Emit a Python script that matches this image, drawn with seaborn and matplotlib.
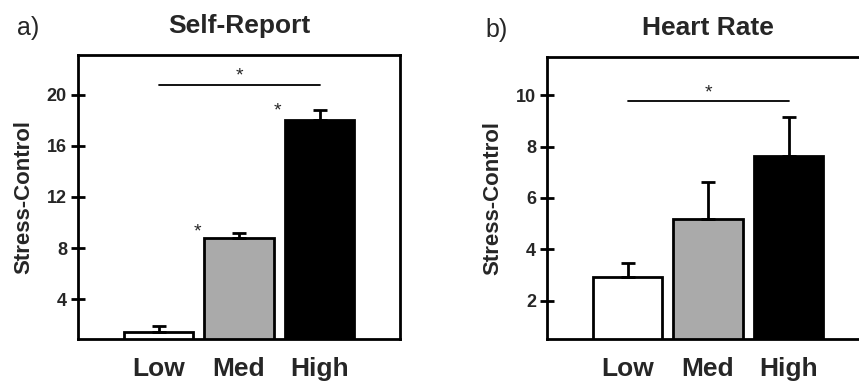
import numpy as np
import pandas as pd
import matplotlib
matplotlib.use('Agg')
import matplotlib.pyplot as plt
import seaborn as sns

# data
groups = ['Low', 'Med', 'High']
colors = ['#ffffff', '#aaaaaa', '#000000']

self_report = [1.45, 8.82, 17.98]
self_report_se = [0.45, 0.38, 0.79]

heart_rate = [2.91, 5.19, 7.64]
heart_rate_se = [0.56, 1.43, 1.50]

sr_bracket = 20.78   # Low vs High line height
hr_bracket = 9.77
sr_stars = [(0.48, 9.3), (1.48, 18.7)]   # single-group asterisks

sns.set_style('white')
plt.rcParams['font.family'] = ['Liberation Sans', 'DejaVu Sans']


def panel(ax, means, errs, ylim, yticks, title, letter, bracket, stars):
    df = pd.DataFrame({'group': groups, 'value': means})
    sns.barplot(data=df, x='group', y='value', hue='group', palette=colors,
                order=groups, hue_order=groups, width=0.86, legend=False,
                edgecolor='black', linewidth=2, errorbar=None, ax=ax)
    x = np.arange(len(groups))
    ax.errorbar(x, means, yerr=[np.zeros(len(errs)), errs], fmt='none',
                ecolor='black', elinewidth=2, capsize=5, capthick=2, zorder=1)
    ax.set_xlim(-1.0, 3.0)
    ax.set_ylim(*ylim)
    ax.set_yticks(yticks)
    ax.set_yticklabels([str(t) for t in yticks], fontsize=13, fontweight='bold')
    ax.set_xticks(x)
    ax.set_xticklabels(groups, fontsize=19, fontweight='bold')
    ax.tick_params(axis='x', length=0, pad=13)
    ax.tick_params(axis='y', left=True, direction='inout', length=10,
                   width=2, color='black', pad=3)
    for s in ax.spines.values():
        s.set_linewidth(2)
        s.set_color('black')
    ax.set_xlabel('')
    ax.set_ylabel('Stress-Control', fontsize=16, fontweight='bold', labelpad=9)
    ax.set_title(title, fontsize=19, fontweight='bold', pad=16)
    ax.text(-0.19, 1.095, letter, transform=ax.transAxes, fontsize=18,
            va='center', ha='left')
    ax.plot([0, 2], [bracket, bracket], color='black', lw=1.3)
    ax.text(1, bracket, '*', ha='center', va='bottom', fontsize=14)
    for sx, sy in stars:
        ax.text(sx, sy, '*', ha='center', va='center', fontsize=14)


fig = plt.figure(figsize=(8.59, 3.86), dpi=100)
ax1 = fig.add_axes([0.0908, 0.1218, 0.3749, 0.7357])
ax2 = fig.add_axes([0.6368, 0.1218, 0.3749, 0.7306])

panel(ax1, self_report, self_report_se, (0.9, 23.1), [4, 8, 12, 16, 20],
      'Self-Report', 'a)', sr_bracket, sr_stars)
panel(ax2, heart_rate, heart_rate_se, (0.5, 11.5), [2, 4, 6, 8, 10],
      'Heart Rate', 'b)', hr_bracket, [])

fig.savefig('out.png', dpi=100)
